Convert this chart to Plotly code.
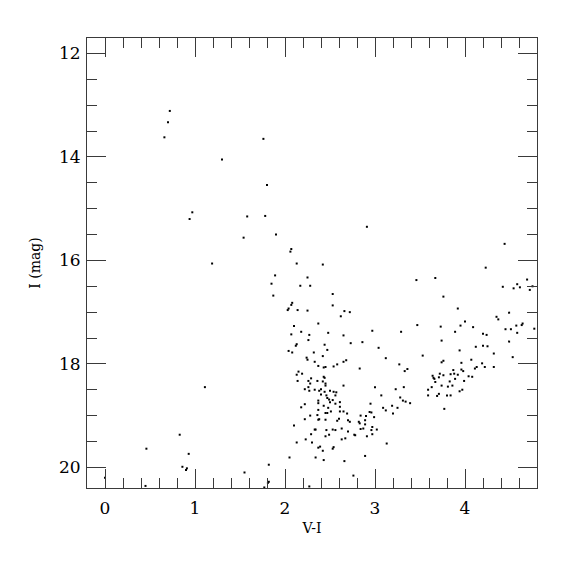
import plotly.graph_objects as go

# V-I colour index and I magnitude
v_minus_i = [
    0.72, 0.70, 0.66, 1.76, 1.30, 1.80, 0.97, 0.94, 1.58, 1.78, 1.54, 1.90, 2.07, 2.06, 1.19, 2.13, 1.89, 1.85, 1.87,
    2.91, 2.42, 2.25, 2.17, 2.28, 2.53, 3.46, 3.67, 3.76, 4.23, 4.44, 4.42, 4.54, 4.58, 4.61, 4.69, 4.72, 4.75,
    3.92, 4.49, 4.35, 4.37, 4.00, 3.95, 4.09, 3.89, 4.20, 4.24, 4.45, 4.51, 4.57, 4.63, 4.64, 4.77, 4.58, 4.49,
    4.12, 4.20, 4.25, 3.94, 4.32, 4.53, 4.07, 3.96, 4.19,
    3.87, 3.96, 3.98, 4.11, 4.13, 4.22, 4.32, 3.84, 3.88, 3.92, 4.04, 4.08, 3.89, 3.83, 3.99, 3.86, 3.81, 3.97,
    3.94, 3.80, 3.84, 3.77,
    3.47, 3.73, 2.97, 3.29, 2.86, 3.74, 3.04, 3.53, 3.12, 3.27, 3.74, 3.76,
    2.83, 3.33, 3.36, 3.64, 3.72, 3.76, 3.66, 3.71, 3.67, 3.63, 3.74, 3.59, 3.59, 3.69, 3.71, 3.00, 3.23, 3.32,
    3.07, 3.28, 3.31, 3.34, 3.39, 2.95, 3.19, 3.09, 3.25, 3.12, 3.20, 2.94, 2.96, 2.84, 2.90, 2.99, 2.89, 2.82,
    2.83, 2.89, 2.97, 2.84, 2.87, 2.96, 3.02, 2.78, 2.91, 2.97, 3.13, 2.89, 3.65,
    2.08, 2.07, 2.53, 2.04, 2.03, 2.14, 2.25, 2.66, 2.72, 2.62, 2.37, 2.10, 2.18, 2.07, 2.27, 2.48, 2.65, 2.26,
    2.73, 2.44, 2.13, 2.12, 2.47, 2.04, 2.08, 2.32, 2.42, 2.24, 2.25, 2.65, 2.68, 2.33, 2.58,
    2.37, 2.43, 2.45, 2.54, 2.15, 2.19, 2.13, 2.43, 2.44, 2.29, 2.14, 2.26, 2.36, 2.42, 2.45, 2.45, 2.28, 2.65,
    2.26, 2.22, 2.33, 2.27, 2.38, 2.40, 2.44, 2.50, 2.54, 2.57, 2.40, 2.47, 2.46, 2.49, 2.56, 2.37, 2.37, 2.53,
    2.56, 2.43, 2.22, 2.18, 2.48, 2.61, 2.37, 2.61, 2.65, 2.51, 2.28, 2.36, 2.45, 2.47, 2.69, 2.22, 2.37, 2.38,
    2.45, 2.58, 2.60, 2.70, 2.72, 2.10, 2.33, 2.34, 2.46, 2.53, 2.56, 2.63, 2.70, 2.29, 2.45, 2.49, 2.77, 2.63,
    2.67, 2.23, 2.30, 2.13, 2.39, 2.37, 2.54, 2.53, 2.42, 2.05, 2.34, 2.43, 2.66, 1.82, 2.76, 1.82, 1.81, 2.27,
    1.77, 2.61, 2.50,
    1.11, 0.83, 0.46, 0.93, 0.86, 0.91, 0.90, 1.55, 0.00, 0.45,
]
i_mag = [
    13.11, 13.33, 13.62, 13.65, 14.05, 14.54, 15.07, 15.20, 15.15, 15.14, 15.56, 15.50, 15.78, 15.83, 16.06, 16.06, 16.29, 16.45, 16.68,
    15.35, 16.08, 16.33, 16.49, 16.49, 16.65, 16.38, 16.34, 16.70, 16.14, 15.68, 16.51, 16.54, 16.46, 16.52, 16.37, 16.57, 16.50,
    16.93, 17.01, 17.09, 17.14, 17.18, 17.26, 17.29, 17.38, 17.42, 17.44, 17.33, 17.33, 17.26, 17.25, 17.22, 17.32, 17.40, 17.57,
    17.67, 17.65, 17.66, 17.74, 17.80, 17.87, 17.92, 17.98, 17.99,
    18.12, 18.11, 18.14, 18.09, 18.06, 18.06, 18.06, 18.20, 18.19, 18.21, 18.24, 18.25, 18.29, 18.34, 18.33, 18.42, 18.44, 18.50,
    18.53, 18.61, 18.61, 18.87,
    17.25, 17.28, 17.36, 17.38, 17.58, 17.55, 17.69, 17.84, 17.89, 18.01, 17.97, 17.94,
    18.09, 18.14, 18.10, 18.23, 18.19, 18.22, 18.29, 18.26, 18.35, 18.45, 18.42, 18.50, 18.61, 18.62, 18.58, 18.45, 18.49, 18.45,
    18.61, 18.65, 18.71, 18.73, 18.76, 18.77, 18.81, 18.85, 18.85, 18.90, 18.96, 18.93, 18.94, 19.00, 19.01, 19.03, 19.09, 19.12,
    19.15, 19.17, 19.22, 19.26, 19.25, 19.28, 19.27, 19.38, 19.40, 19.36, 19.54, 19.78, 18.27,
    16.82, 16.86, 16.87, 16.93, 16.96, 16.96, 16.97, 16.98, 17.00, 17.08, 17.22, 17.27, 17.38, 17.43, 17.44, 17.40, 17.45, 17.54,
    17.60, 17.63, 17.62, 17.65, 17.73, 17.75, 17.78, 17.78, 17.85, 17.88, 17.92, 17.96, 17.93, 17.96, 18.01,
    18.04, 18.07, 18.06, 18.05, 18.15, 18.19, 18.21, 18.25, 18.27, 18.28, 18.33, 18.33, 18.33, 18.34, 18.38, 18.42, 18.38, 18.42,
    18.45, 18.49, 18.50, 18.52, 18.52, 18.49, 18.54, 18.52, 18.54, 18.55, 18.59, 18.66, 18.61, 18.69, 18.61, 18.71, 18.76, 18.70,
    18.77, 18.81, 18.78, 18.84, 18.85, 18.83, 18.89, 18.92, 18.92, 18.92, 19.00, 18.99, 18.95, 18.95, 18.96, 19.07, 19.08, 19.07,
    19.08, 19.10, 19.06, 19.09, 19.12, 19.19, 19.27, 19.27, 19.28, 19.27, 19.28, 19.25, 19.31, 19.36, 19.40, 19.37, 19.37, 19.46,
    19.44, 19.46, 19.52, 19.52, 19.60, 19.62, 19.61, 19.64, 19.68, 19.81, 19.81, 19.86, 19.88, 19.95, 20.16, 20.28, 20.30, 20.37,
    20.39, 18.74, 18.74,
    18.45, 19.37, 19.64, 19.74, 19.99, 20.02, 20.05, 20.10, 20.20, 20.36,
]

x_label = "V-I"
y_label = "I (mag)"

FONT = "DejaVu Serif"
AX = "#3a3a3a"

fig = go.Figure(
    go.Scatter(
        x=v_minus_i, y=i_mag, mode="markers",
        marker=dict(symbol="square", size=2, color="black", line=dict(width=0)),
        hoverinfo="skip",
    )
)

common = dict(
    showgrid=False, zeroline=False, showline=True, linecolor=AX, linewidth=1,
    mirror="allticks", ticks="inside", ticklen=19, tickwidth=1, tickcolor=AX,
    tickfont=dict(family=FONT, size=17, color="black"),
)

fig.update_xaxes(
    range=[-0.2, 4.8], tick0=0, dtick=1, ticklabelstandoff=5,
    minor=dict(ticks="inside", ticklen=10, tickwidth=1, tickcolor=AX, dtick=0.2, tick0=0, showgrid=False),
    title=dict(text=x_label, font=dict(family=FONT, size=14, color="black"), standoff=5),
    **common,
)
fig.update_yaxes(
    range=[20.4, 11.7], tick0=12, dtick=2, ticklabelstandoff=2,
    minor=dict(ticks="inside", ticklen=10, tickwidth=1, tickcolor=AX, dtick=0.5, tick0=12, showgrid=False),
    title=dict(text=y_label, font=dict(family=FONT, size=14, color="black"), standoff=15),
    **common,
)

# the page adds an 8px body margin, so the margins are reduced by that amount
fig.update_layout(
    width=575, height=575,
    margin=dict(l=79, r=46, t=30, b=95),
    paper_bgcolor="white", plot_bgcolor="white",
    showlegend=False,
)

fig.write_html("out.html")
